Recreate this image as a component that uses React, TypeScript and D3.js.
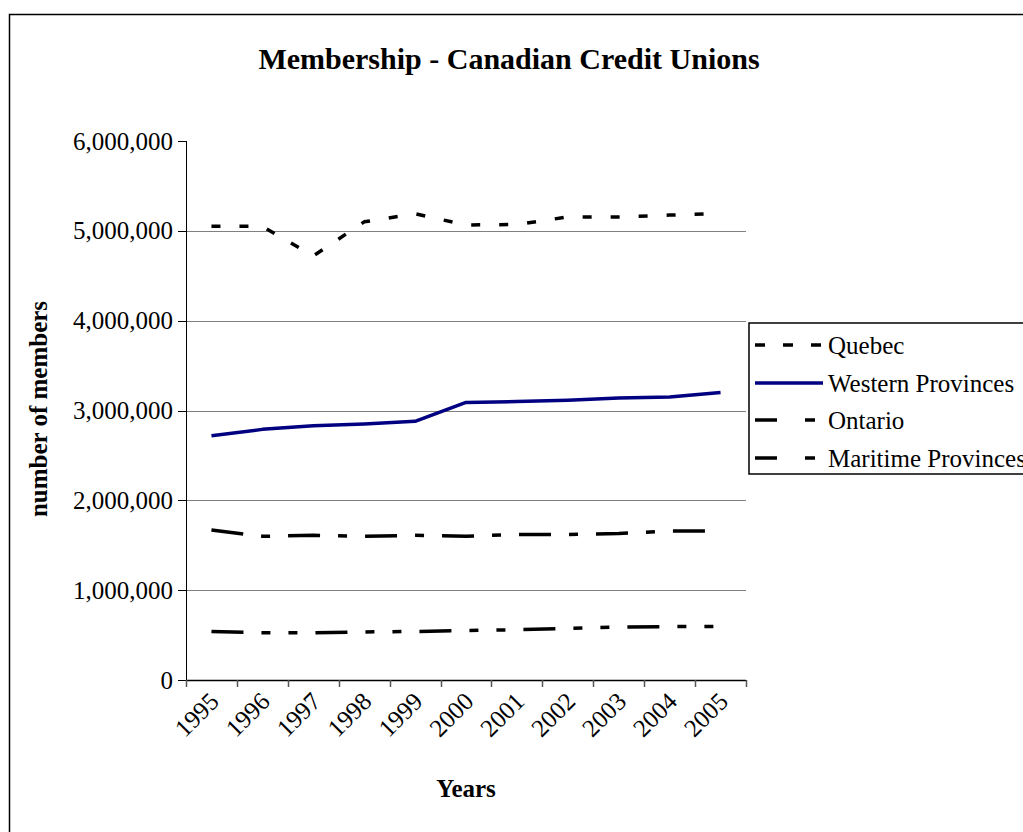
import React from "react";
import * as d3 from "d3";

const years = ["1995","1996","1997","1998","1999","2000","2001","2002","2003","2004","2005"];
const quebec = [5050000,5050000,4720000,5100000,5190000,5065000,5070000,5155000,5155000,5175000,5195000];
const western = [2720000,2790000,2830000,2850000,2880000,3090000,3100000,3115000,3140000,3150000,3200000];
const ontario = [1670000,1600000,1610000,1600000,1610000,1600000,1620000,1620000,1630000,1660000,1660000];
const maritime = [540000,525000,525000,535000,540000,550000,560000,575000,590000,595000,595000];
const yTicks = [0,1000000,2000000,3000000,4000000,5000000,6000000];

const seriesNames = ["Quebec","Western Provinces","Ontario","Maritime Provinces"];
const seriesData = [quebec, western, ontario, maritime];
const seriesColor = ["#000000","#000080","#000000","#000000"];
const seriesDash = ["9,19", null, "32,18,9,18", "32,18,9,18,9,18"];
const legendDash = ["10,18", null, "22,28,10,40", "22,28,10,40"];

const FONT = "'Liberation Serif', 'Times New Roman', serif";

export default function App() {
  const left = 186, right = 746, top = 141, bottom = 680;
  const x = d3.scaleBand<string>().domain(years).range([left, right]).padding(0);
  const y = d3.scaleLinear().domain([0, 6000000]).range([bottom, top]);
  const fmt = d3.format(",");
  const line = d3.line<number>()
    .x((_, i) => (x(years[i]) as number) + x.bandwidth() / 2)
    .y((d) => y(d));

  const legendY = [345, 383, 420, 458];

  return (
    <svg width={1023} height={832} style={{ position: "absolute", left: 0, top: 0 }} fontFamily={FONT}>
      <rect x={0} y={0} width={1023} height={832} fill="#fff" />
      <rect x={9.5} y={14.5} width={1100} height={900} fill="none" stroke="#000" strokeWidth={1.5} />
      <text x={509} y={69} textAnchor="middle" fontSize={30} fontWeight="bold">Membership - Canadian Credit Unions</text>

      {yTicks.filter((t) => t > 0 && t < 6000000).map((t) => (
        <line key={"g" + t} x1={left} x2={right} y1={Math.round(y(t)) + 0.5} y2={Math.round(y(t)) + 0.5} stroke="#808080" strokeWidth={1} />
      ))}
      {yTicks.map((t) => (
        <g key={"yt" + t}>
          <line x1={178} x2={left} y1={Math.round(y(t)) + 0.5} y2={Math.round(y(t)) + 0.5} stroke="#000" strokeWidth={1} />
          <text x={173} y={y(t)} dy="0.34em" textAnchor="end" fontSize={25}>{fmt(t)}</text>
        </g>
      ))}
      <line x1={left + 0.5} x2={left + 0.5} y1={top} y2={bottom} stroke="#000" strokeWidth={1} />
      <line x1={left} x2={right} y1={bottom + 0.5} y2={bottom + 0.5} stroke="#000" strokeWidth={1.5} />
      {years.concat(["end"]).map((yr, i) => {
        const xx = Math.round(left + i * x.bandwidth()) + 0.5;
        return <line key={"xt" + i} x1={xx} x2={xx} y1={bottom} y2={bottom + 7} stroke="#555" strokeWidth={1.5} />;
      })}
      {years.map((yr) => {
        const cx = (x(yr) as number) + x.bandwidth() / 2 + 9;
        const cy = 703;
        return (
          <text key={"xl" + yr} x={cx} y={cy} textAnchor="end" fontSize={25} transform={`rotate(-45 ${cx} ${cy})`}>{yr}</text>
        );
      })}

      {seriesData.map((d, i) => (
        <path key={"s" + i} d={line(d) || ""} fill="none" stroke={seriesColor[i]} strokeWidth={3.5}
          strokeDasharray={seriesDash[i] || undefined} strokeLinejoin="round" />
      ))}

      <text x={466} y={797} textAnchor="middle" fontSize={25} fontWeight="bold">Years</text>
      <text transform={`translate(47,409) rotate(-90)`} textAnchor="middle" fontSize={25} fontWeight="bold">number of members</text>

      <rect x={749} y={323} width={300} height={151} fill="#fff" stroke="#000" strokeWidth={1.5} />
      {seriesNames.map((n, i) => (
        <g key={"l" + i}>
          <line x1={755} x2={823} y1={legendY[i]} y2={legendY[i]} stroke={seriesColor[i]} strokeWidth={3.5}
            strokeDasharray={legendDash[i] || undefined} />
          <text x={828} y={legendY[i]} dy="0.34em" fontSize={25}>{n}</text>
        </g>
      ))}
    </svg>
  );
}
